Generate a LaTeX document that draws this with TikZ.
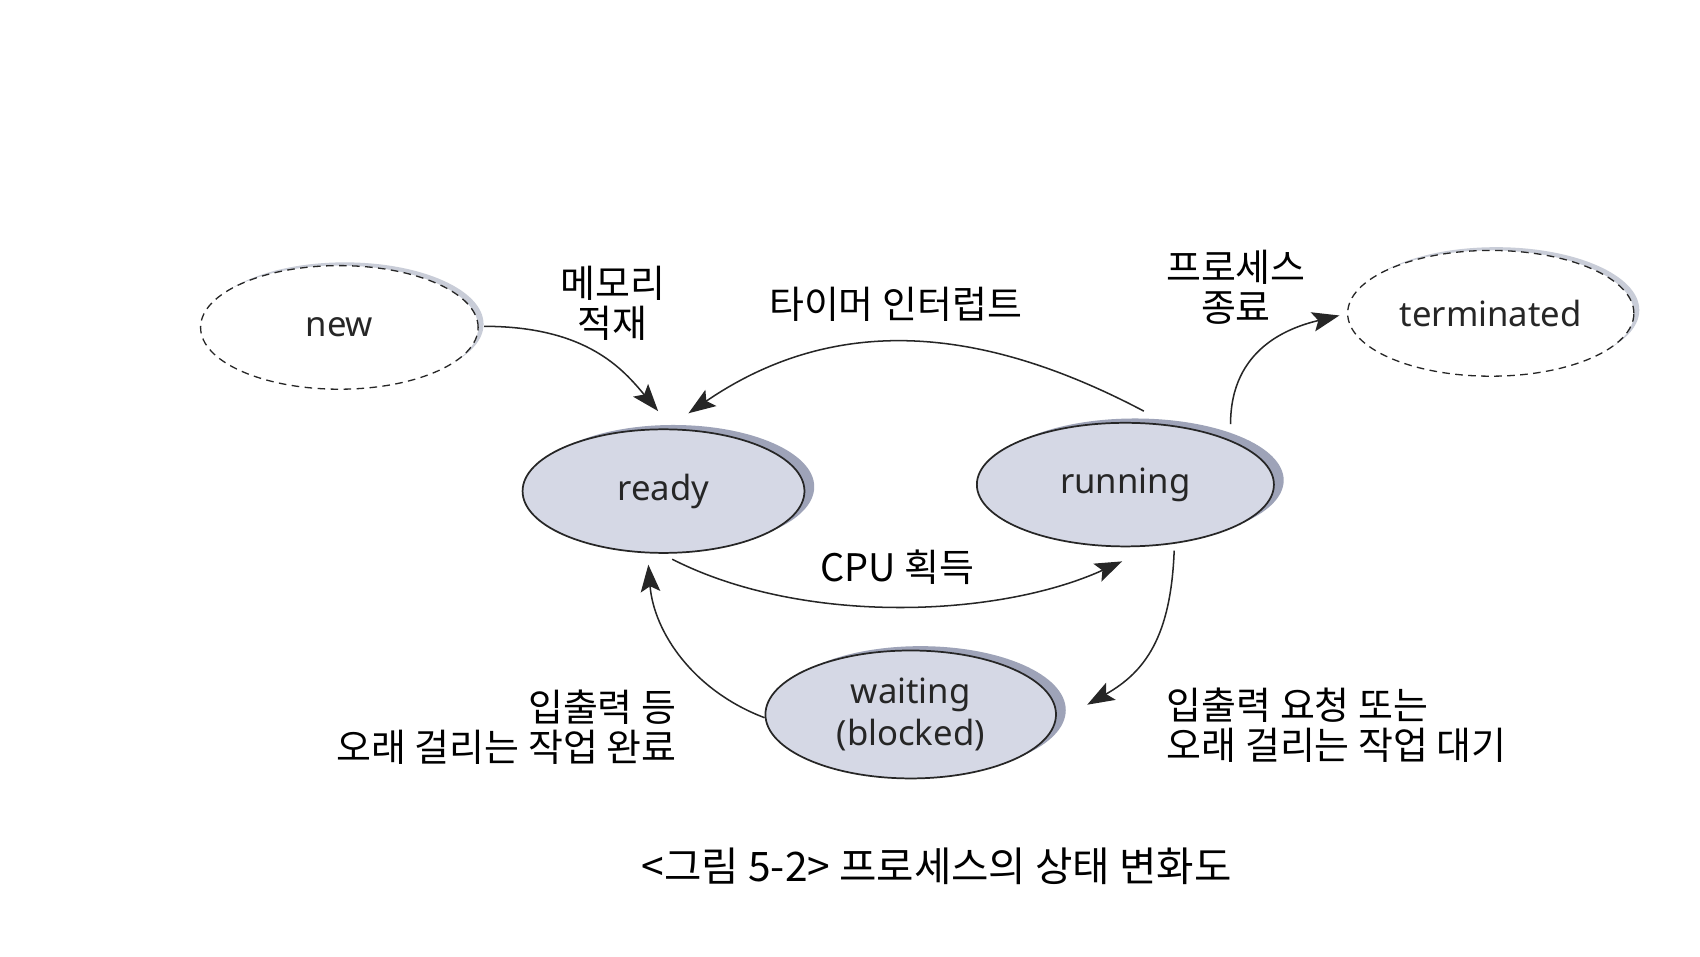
\documentclass[tikz,border=0pt]{standalone}
\usepackage{fontspec}
\setmainfont{Noto Sans}
\newfontfamily\kr{Noto Sans CJK KR}
\usetikzlibrary{shapes.geometric,shadows,arrows.meta,calc}
\definecolor{inkc}{HTML}{262626}
\definecolor{fillc}{HTML}{D5D8E5}
\definecolor{shadowc}{HTML}{9EA3B8}
\definecolor{lightshadow}{HTML}{C9CDD8}
\tikzset{
  statebox/.style={ellipse, draw=inkc, line width=1.6pt, fill=fillc, inner sep=0pt,
    font=\fontsize{32}{38}\selectfont, text=inkc, align=center,
    drop shadow={shadow xshift=9pt, shadow yshift=4pt, fill=shadowc, opacity=1}},
  dashbox/.style={ellipse, draw=inkc, line width=1.2pt, dashed, dash pattern=on 7pt off 5pt,
    fill=white, inner sep=0pt, font=\fontsize{32}{38}\selectfont, text=inkc,
    drop shadow={shadow xshift=5pt, shadow yshift=3pt, fill=lightshadow, opacity=1}},
  conn/.style={draw=inkc, line width=1.4pt, -{Stealth[length=25pt, width=18pt, inset=5pt]}},
  lbl/.style={font=\kr\fontsize{35}{37}\selectfont, text=black, inner sep=0pt},
}
\begin{document}
\begin{tikzpicture}[x=1pt,y=1pt]
\useasboundingbox (0,0) rectangle (1568,882);
\fill[white] (0,0) rectangle (1568,882);

% states
\node[dashbox, minimum width=256pt, minimum height=114pt] (new) at (313,580) {new};
\node[dashbox, minimum width=264pt, minimum height=116pt] (term) at (1375,593) {terminated};
\node[statebox, minimum width=260pt, minimum height=114pt] (ready) at (612,429) {ready};
\node[statebox, minimum width=274pt, minimum height=114pt] (run) at (1038,435) {running};
\node[statebox, minimum width=268pt, minimum height=118pt] (wait) at (840,223) {waiting\\(blocked)};

% connectors
\draw[conn] ($(new.east)+(5,1)$) .. controls +(95,0) and +(-32,38) .. ($(ready.north)+(-5,16)$);
\draw[conn] ($(run.north)+(17,10)$) .. controls (920,574) and (780,600) .. ($(ready.north)+(23,14)$);
\draw[conn] ($(ready.south)+(8,-5)$) .. controls (740,305) and (920,312) .. ($(run.south)+(-3,-13)$);
\draw[conn] ($(run.north)+(97,-2)$) .. controls +(0,70) and +(-46,-11) .. ($(term.west)+(-7,-2)$);
\draw[conn] ($(run.south)+(45,-3)$) .. controls +(-3,-80) and +(53,30) .. ($(wait.east)+(28,9)$);
\draw[conn] ($(wait.west)+(0,-3)$) .. controls +(-66,25) and +(5,-62) .. ($(ready.south)+(-14,-10)$);

% labels
\node[lbl, align=center] (l1) at (565,602) {메모리\\적재};
\node[lbl] (l2) at (826,601) {타이머 인터럽트};
\node[lbl] (l3) at (828,359) {CPU 획득};
\node[lbl, align=center] (l4) at (1140,617) {프로세스\\종료};
\node[lbl, align=right, anchor=east] (l5) at (624,211) {입출력 등\\오래 걸리는 작업 완료};
\node[lbl, align=left, anchor=west] (l6) at (1076,213) {입출력 요청 또는\\오래 걸리는 작업 대기};

\node[lbl, font=\kr\fontsize{37.5}{40}\selectfont] (cap) at (864,83) {<그림 5-2> 프로세스의 상태 변화도};
\end{tikzpicture}
\end{document}
